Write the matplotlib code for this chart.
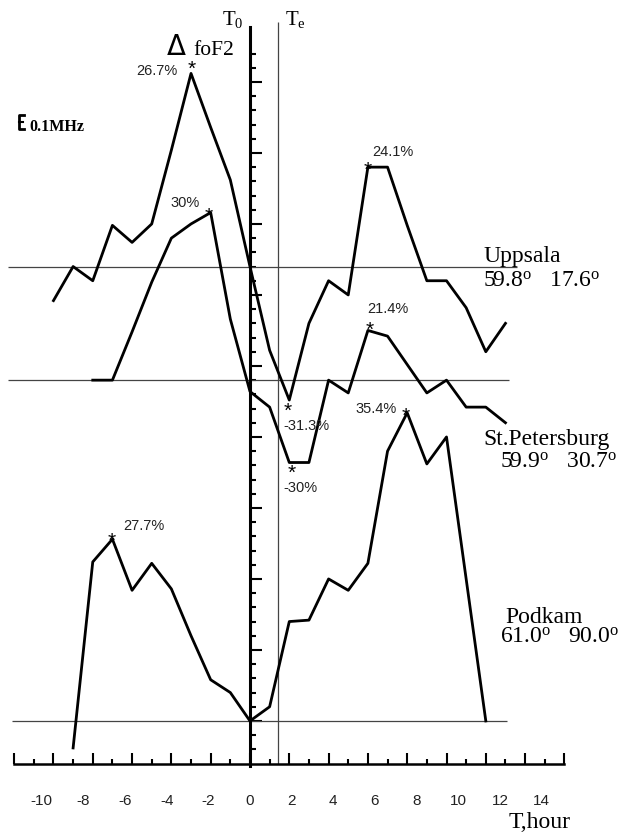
#Import the libraries
import numpy as np
import matplotlib
matplotlib.use('Agg')
import matplotlib.pyplot as plt
from matplotlib.ticker import FixedLocator

#Data: foF2 deviation from the station level, in units of 0.1 MHz
uppsala_hours = [-10, -9, -8, -7, -6, -5, -4, -3, -2, -1, 0, 1, 2, 3, 4, 5, 6, 7, 8, 9, 10, 11, 12, 13]
uppsala_dev = [-2.4, 0, -1.0, 2.9, 1.7, 3.0, 8.2, 13.6, 9.8, 6.1, 0, -5.9, -9.4, -4.0, -1.0, -2.0, 7.0, 7.0, 2.9, -1.0, -1.0, -2.9, -6.0, -4.0]

stpet_hours = [-8, -7, -6, -5, -4, -3, -2, -1, 0, 1, 2, 3, 4, 5, 6, 7, 8, 9, 10, 11, 12, 13]
stpet_dev = [0, 0, 3.4, 6.9, 10.0, 11.0, 11.8, 4.3, -0.8, -1.9, -5.8, -5.8, 0, -0.9, 3.5, 3.1, 1.1, -0.9, 0, -1.9, -1.9, -3.0]

podkam_hours = [-9, -8, -7, -6, -5, -4, -3, -2, -1, 0, 1, 2, 3, 4, 5, 6, 7, 8, 9, 10, 12]
podkam_dev = [-1.9, 11.2, 12.8, 9.2, 11.1, 9.3, 6.0, 2.9, 2.0, 0, 1.0, 7.0, 7.1, 10.0, 9.2, 11.1, 19.0, 21.7, 18.1, 20.0, 0]

#Stations: name, level on the common scale (0.1 MHz), coordinates
station_names = ['Uppsala', 'St.Petersburg', 'Podkam']
station_levels = [32, 24, 0]
station_lat = ['59.8', '59.9', '61.0']
station_lon = ['17.6', '30.7', '90.0']

#Marked extrema: station index, hour, label
peak_station = [0, 1, 0, 1, 0, 1, 2, 2]
peak_hour = [-3, -2, 2, 2, 6, 6, 8, -7]
peak_label = ['26.7%', '30%', '-31.3%', '-30%', '24.1%', '21.4%', '35.4%', '27.7%']

x_ticklabels = [-10, -8, -6, -4, -2, 0, 2, 4, 6, 8, 10, 12, 14]
T_E = 1.42

#Font setup
plt.rcParams['font.family'] = ['Liberation Serif', 'DejaVu Serif']
plt.rcParams['mathtext.fontset'] = 'custom'
plt.rcParams['mathtext.rm'] = 'Liberation Serif'
plt.rcParams['mathtext.it'] = 'Liberation Serif:italic'
SANS = ['Liberation Sans', 'DejaVu Sans']

fig = plt.figure(figsize=(6.22, 8.32), dpi=100)
ax = fig.add_axes([0, 0, 1, 1])
XLIM = (-12.72, 18.93)
YLIM = (-7.82, 50.77)
X_AXIS_Y = -3
ax.set_xlim(*XLIM)
ax.set_ylim(*YLIM)

#Station zero levels
ax.hlines(station_levels[0], -12.3, 13.6, color='#444444', lw=0.9)
ax.hlines(station_levels[1], -12.3, 13.2, color='#444444', lw=0.9)
ax.hlines(station_levels[2], -12.1, 13.1, color='#444444', lw=0.9)
ax.vlines(T_E, X_AXIS_Y, 49.2, color='#444444', lw=0.9)

#Curves
series = [(uppsala_hours, uppsala_dev), (stpet_hours, stpet_dev), (podkam_hours, podkam_dev)]
for i, (h, d) in enumerate(series):
    ax.plot(h, np.array(d) + station_levels[i], color='black', lw=2.0)

#Asterisks and percent labels
star_off = [(0.7, 2.7), (-1.2, -2.6), (-0.9, -7.9), (1.9, -7.6), (0, -2.4), (1.4, 0.2), (-0.9, -2.2), (-0.4, -1.3)]
lab_off = [(-9.4, 2), (-7.7, 6.8), (-4.5, -18.5), (-4.5, -18.7), (3, 11.2), (-0.7, 15.3), (-7.3, 2.8), (7.6, 9.5)]
lab_ha = ['right', 'right', 'left', 'left', 'left', 'left', 'right', 'left']
for k in range(len(peak_hour)):
    s = peak_station[k]
    h_list, d_list = series[s]
    yv = d_list[h_list.index(peak_hour[k])] + station_levels[s]
    ax.annotate('*', xy=(peak_hour[k], yv), xytext=star_off[k], textcoords='offset points',
                ha='center', va='center', fontsize=15, family=SANS)
    ax.annotate(peak_label[k], xy=(peak_hour[k], yv), xytext=lab_off[k], textcoords='offset points',
                ha=lab_ha[k], va='center', fontsize=10.5, family=SANS, color='#222222')

#Axes
for s in ['top', 'right']:
    ax.spines[s].set_visible(False)
ax.spines['left'].set_position(('data', 0))
ax.spines['left'].set_bounds(-3.2, 48.9)
ax.spines['left'].set_linewidth(2.2)
ax.spines['bottom'].set_position(('data', X_AXIS_Y))
ax.spines['bottom'].set_bounds(-12, 16)
ax.spines['bottom'].set_linewidth(1.8)
ax.xaxis.set_major_locator(FixedLocator(range(-12, 17, 2)))
ax.xaxis.set_minor_locator(FixedLocator(range(-11, 16, 2)))
ax.yaxis.set_major_locator(FixedLocator(range(0, 46, 5)))
ax.yaxis.set_minor_locator(FixedLocator(range(-2, 48)))
ax.tick_params(axis='x', which='major', direction='in', length=7.7, width=1.5, labelbottom=False)
ax.tick_params(axis='x', which='minor', direction='in', length=3.6, width=1.5)
ax.tick_params(axis='y', which='major', direction='in', length=8.6, width=1.5, labelleft=False)
ax.tick_params(axis='y', which='minor', direction='in', length=4.3, width=1.5)

#Hour labels (drawn slightly stretched in the original)
frac = (X_AXIS_Y - YLIM[0]) / (YLIM[1] - YLIM[0])
sec = ax.secondary_xaxis(frac, functions=(lambda v: v / 1.06, lambda v: v * 1.06))
sec.set_xticks(x_ticklabels, labels=[str(v) for v in x_ticklabels])
sec.tick_params(length=0, pad=22, labelsize=11, labelcolor='#222222')
for lab in sec.get_xticklabels():
    lab.set_family(SANS)
for s in sec.spines.values():
    s.set_visible(False)

#Texts
ax.text(-1.42, 49.0, r'T$_\mathrm{0}$', fontsize=15, ha='left', va='baseline')
ax.text(1.78, 49.0, r'T$_\mathrm{e}$', fontsize=15, ha='left', va='baseline')
ax.text(-4.22, 46.9, '\u0394', fontsize=20, ha='left', va='baseline', family=['DejaVu Sans'])
ax.text(-2.9, 46.9, 'foF2', fontsize=15.5, ha='left', va='baseline')
ax.text(13.18, -7.54, 'T,hour', fontsize=17, ha='left', va='baseline')

#Scale mark: one tick = 0.1 MHz
sb_x, sb_y = -11.76, 41.7
ax.plot([sb_x + 0.25, sb_x, sb_x, sb_x + 0.25], [sb_y + 1, sb_y + 1, sb_y, sb_y], color='black', lw=2)
ax.plot([sb_x, sb_x + 0.2], [sb_y + 0.5, sb_y + 0.5], color='black', lw=1.5)
ax.text(-11.2, 41.55, '0.1MHz', fontsize=11.5, fontweight='bold', ha='left', va='baseline')

name_pos = [(11.86, 32.3), (11.86, 19.4), (12.98, 6.9)]
coord_pos = [(11.86, 30.6), (12.72, 17.8), (12.72, 5.5)]
for i in range(3):
    ax.text(*name_pos[i], station_names[i], fontsize=17, ha='left', va='baseline')
    ax.text(*coord_pos[i], station_lat[i] + r'$^\mathrm{o}$   ' + station_lon[i] + r'$^\mathrm{o}$',
            fontsize=17, ha='left', va='baseline')

fig.savefig('out.png', dpi=100)
